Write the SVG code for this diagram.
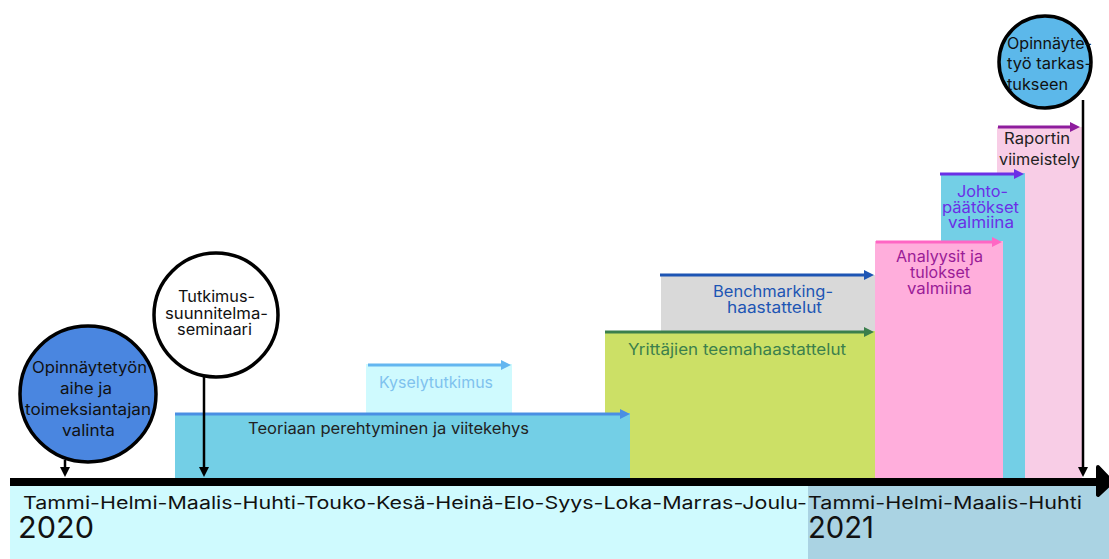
<svg xmlns="http://www.w3.org/2000/svg" width="1109" height="559" viewBox="0 0 1109 559">
<style>
text{font-family:Inter,"Noto Sans","DejaVu Sans",sans-serif;}
.lbl{font-size:15.5px;text-anchor:middle;}
.circ{stroke:#000;stroke-width:3.5;}
.conn{stroke-width:3;fill:none;}
.tick{stroke:#000;stroke-width:2.5;fill:none;}
</style>
<defs>
<marker id="m-blue" markerWidth="10" markerHeight="10" refX="1" refY="5" orient="auto" markerUnits="userSpaceOnUse"><path d="M0,0 L10,5 L0,10 z" fill="#4A8FE3"/></marker>
<marker id="m-lblue" markerWidth="10" markerHeight="10" refX="1" refY="5" orient="auto" markerUnits="userSpaceOnUse"><path d="M0,0 L10,5 L0,10 z" fill="#63B6F0"/></marker>
<marker id="m-green" markerWidth="10" markerHeight="10" refX="1" refY="5" orient="auto" markerUnits="userSpaceOnUse"><path d="M0,0 L10,5 L0,10 z" fill="#3B7F4C"/></marker>
<marker id="m-dblue" markerWidth="10" markerHeight="10" refX="1" refY="5" orient="auto" markerUnits="userSpaceOnUse"><path d="M0,0 L10,5 L0,10 z" fill="#1D55B4"/></marker>
<marker id="m-pink" markerWidth="10" markerHeight="10" refX="1" refY="5" orient="auto" markerUnits="userSpaceOnUse"><path d="M0,0 L10,5 L0,10 z" fill="#FF66C4"/></marker>
<marker id="m-violet" markerWidth="10" markerHeight="10" refX="1" refY="5" orient="auto" markerUnits="userSpaceOnUse"><path d="M0,0 L10,5 L0,10 z" fill="#6B2FE6"/></marker>
<marker id="m-purple" markerWidth="10" markerHeight="10" refX="1" refY="5" orient="auto" markerUnits="userSpaceOnUse"><path d="M0,0 L10,5 L0,10 z" fill="#8E1C9D"/></marker>
<marker id="m-black" markerWidth="11" markerHeight="10" refX="1" refY="5" orient="auto" markerUnits="userSpaceOnUse"><path d="M0,0 L10,5 L0,10 z" fill="#000"/></marker>
</defs>
<rect width="1109" height="559" fill="#fff"/>

<g id="bands">
<rect x="10" y="484" width="798" height="75" fill="#CFFAFE"/>
<rect x="808" y="484" width="301" height="75" fill="#AAD3E3"/>
<text x="23" y="509" font-size="17.5" fill="#111" textLength="784" lengthAdjust="spacingAndGlyphs">Tammi-Helmi-Maalis-Huhti-Touko-Kesä-Heinä-Elo-Syys-Loka-Marras-Joulu-</text>
<text x="808" y="509" font-size="17.5" fill="#111" textLength="274" lengthAdjust="spacingAndGlyphs">Tammi-Helmi-Maalis-Huhti</text>
<text x="18" y="538" font-size="30" fill="#111" textLength="76" lengthAdjust="spacingAndGlyphs">2020</text>
<text x="808" y="538" font-size="30" fill="#111" textLength="66" lengthAdjust="spacingAndGlyphs">2021</text>
</g>

<g id="raportin">
<rect x="997" y="127" width="85" height="352" fill="#F8CDE6"/>
<text class="lbl" x="1037" y="144" fill="#222" textLength="66" lengthAdjust="spacingAndGlyphs">Raportin</text>
<text class="lbl" x="1039.5" y="165" fill="#222" textLength="81" lengthAdjust="spacingAndGlyphs">viimeistely</text>
</g>
<g id="johto">
<rect x="941" y="173" width="84" height="306" fill="#73CFE6"/>
<text class="lbl" x="982.5" y="197" fill="#6B2FE6" textLength="51" lengthAdjust="spacingAndGlyphs">Johto-</text>
<text class="lbl" x="980.5" y="213" fill="#6B2FE6" textLength="77" lengthAdjust="spacingAndGlyphs">päätökset</text>
<text class="lbl" x="981" y="228" fill="#6B2FE6" textLength="66" lengthAdjust="spacingAndGlyphs">valmiina</text>
</g>
<g id="analyysit">
<rect x="875" y="241" width="128" height="238" fill="#FFAEDC"/>
<text class="lbl" x="939.5" y="262" fill="#9A1C97" textLength="87" lengthAdjust="spacingAndGlyphs">Analyysit ja</text>
<text class="lbl" x="940" y="278" fill="#9A1C97" textLength="60" lengthAdjust="spacingAndGlyphs">tulokset</text>
<text class="lbl" x="939.5" y="294" fill="#9A1C97" textLength="65" lengthAdjust="spacingAndGlyphs">valmiina</text>
</g>
<g id="benchmarking">
<rect x="661" y="275" width="214" height="56" fill="#D9D9D9"/>
<text class="lbl" x="773" y="297" fill="#1D55B4" textLength="120" lengthAdjust="spacingAndGlyphs">Benchmarking-</text>
<text class="lbl" x="774.5" y="313" fill="#1D55B4" textLength="95" lengthAdjust="spacingAndGlyphs">haastattelut</text>
</g>
<g id="yrittajien">
<rect x="605" y="331" width="270" height="148" fill="#CCE066"/>
<text class="lbl" x="737" y="355" fill="#3B7F4C" textLength="218" lengthAdjust="spacingAndGlyphs">Yrittäjien teemahaastattelut</text>
</g>
<g id="kysely">
<rect x="366" y="364" width="146" height="49" fill="#CFFAFE"/>
<text class="lbl" x="436" y="388" fill="#7FC2EE" textLength="114" lengthAdjust="spacingAndGlyphs">Kyselytutkimus</text>
</g>
<g id="teoriaan">
<rect x="175" y="413" width="455" height="66" fill="#73CFE6"/>
<text class="lbl" x="388.5" y="434" fill="#222" textLength="281" lengthAdjust="spacingAndGlyphs">Teoriaan perehtyminen ja viitekehys</text>
</g>

<g id="connectors">
<line class="conn" x1="175" y1="414" x2="621" y2="414" stroke="#4A8FE3" marker-end="url(#m-blue)"/>
<line class="conn" x1="368" y1="365" x2="502" y2="365" stroke="#63B6F0" marker-end="url(#m-lblue)"/>
<line class="conn" x1="605" y1="332" x2="865" y2="332" stroke="#3B7F4C" marker-end="url(#m-green)"/>
<line class="conn" x1="660" y1="275" x2="865" y2="275" stroke="#1D55B4" marker-end="url(#m-dblue)"/>
<line class="conn" x1="876" y1="242" x2="993" y2="242" stroke="#FF66C4" marker-end="url(#m-pink)"/>
<line class="conn" x1="940" y1="174" x2="1015" y2="174" stroke="#6B2FE6" marker-end="url(#m-violet)"/>
<line class="conn" x1="998" y1="127" x2="1071" y2="127" stroke="#8E1C9D" marker-end="url(#m-purple)"/>
<line class="tick" x1="65" y1="460" x2="65" y2="468" marker-end="url(#m-black)"/>
<line class="tick" x1="204" y1="376" x2="204" y2="468" marker-end="url(#m-black)"/>
<line class="tick" x1="1083" y1="100" x2="1083" y2="468" marker-end="url(#m-black)"/>
</g>

<g id="timeline">
<rect x="10" y="478" width="1090" height="8" fill="#000"/>
<path d="M1098,467 L1112,482 L1098,495 Z" fill="#000" stroke="#000" stroke-width="4" stroke-linejoin="round"/>
</g>

<g id="aihe">
<circle class="circ" cx="88" cy="394" r="68" fill="#4A86E0"/>
<text class="lbl" x="89.5" y="373" font-size="16" fill="#111" textLength="115" lengthAdjust="spacingAndGlyphs">Opinnäytetyön</text>
<text class="lbl" x="86" y="394" font-size="16" fill="#111" textLength="52" lengthAdjust="spacingAndGlyphs">aihe ja</text>
<text class="lbl" x="88" y="415" font-size="16" fill="#111" textLength="126" lengthAdjust="spacingAndGlyphs">toimeksiantajan</text>
<text class="lbl" x="88.5" y="436" font-size="16" fill="#111" textLength="53" lengthAdjust="spacingAndGlyphs">valinta</text>
</g>
<g id="seminaari">
<circle class="circ" cx="216" cy="315" r="62" fill="#fff"/>
<text class="lbl" x="216.5" y="302" fill="#111" textLength="77" lengthAdjust="spacingAndGlyphs">Tutkimus-</text>
<text class="lbl" x="216.5" y="319" fill="#111" textLength="103" lengthAdjust="spacingAndGlyphs">suunnitelma-</text>
<text class="lbl" x="214.5" y="335" fill="#111" textLength="75" lengthAdjust="spacingAndGlyphs">seminaari</text>
</g>
<g id="tarkastus">
<circle class="circ" cx="1045" cy="62" r="46" fill="#5CB8EA"/>
<text x="1007" y="49" font-size="15.5" fill="#111" textLength="85" lengthAdjust="spacingAndGlyphs">Opinnäyte-</text>
<text x="1007" y="69" font-size="15.5" fill="#111" textLength="85" lengthAdjust="spacingAndGlyphs">työ tarkas-</text>
<text x="1007" y="90" font-size="15.5" fill="#111" textLength="61" lengthAdjust="spacingAndGlyphs">tukseen</text>
</g>
</svg>
